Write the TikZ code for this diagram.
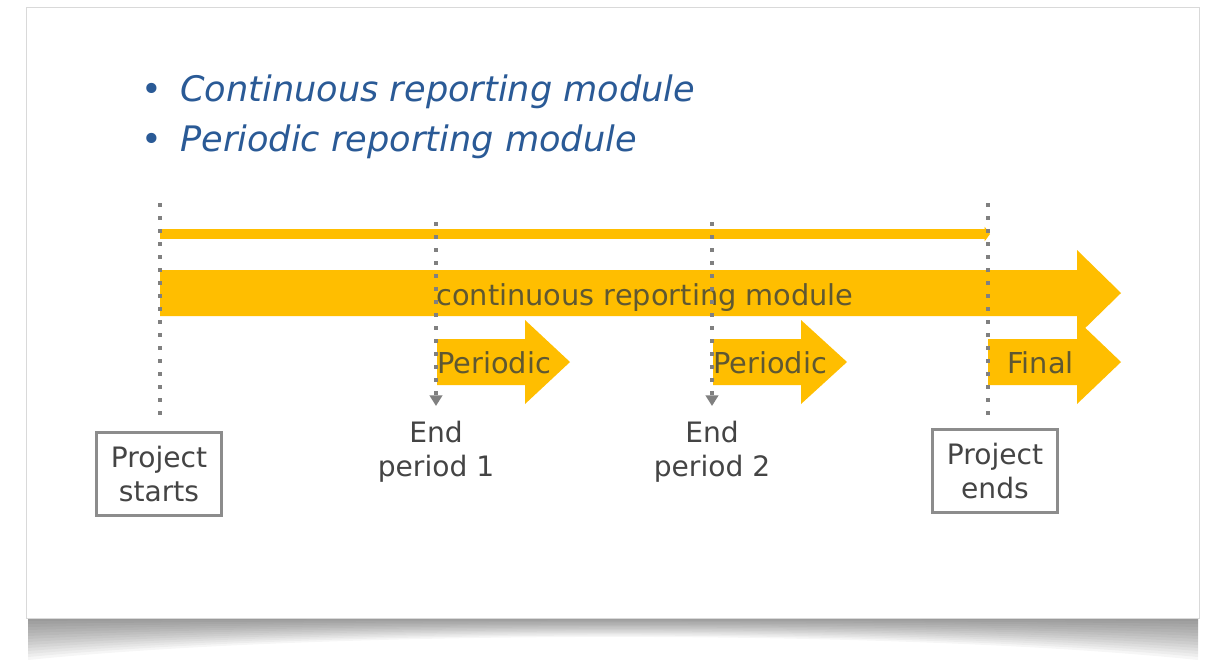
\documentclass[tikz,border=0pt]{standalone}
\usepackage{fontspec}
\setmainfont{DejaVu Sans}
\usetikzlibrary{arrows.meta}

\definecolor{repgold}{RGB}{255,190,0}
\definecolor{repblue}{RGB}{42,90,150}
\definecolor{reptext}{RGB}{68,68,68}
\definecolor{repdots}{RGB}{128,128,128}
\definecolor{repinner}{RGB}{95,88,50}

\tikzset{
  mark line/.style={repdots,line width=2.2pt,dash pattern=on 2.2pt off 5.2pt},
  gold/.style={fill=repgold,draw=none},
  bullet text/.style={font=\fontsize{20}{24}\selectfont\itshape,text=repblue,anchor=base west,inner sep=0pt},
  inner text/.style={font=\fontsize{16.4}{19.5}\selectfont,text=repinner,inner sep=0pt},
  end label/.style={font=\fontsize{16}{19.5}\selectfont,text=reptext,align=center,inner sep=0pt},
  mile box/.style={draw=gray!90,line width=1.2pt,fill=white,font=\fontsize{16}{19.5}\selectfont,
    text=reptext,align=center,minimum width=2.5cm,minimum height=1.66cm,inner sep=0pt},
}

\begin{document}
\begin{tikzpicture}[x=0.02cm,y=-0.02cm]
\useasboundingbox (0,0) rectangle (1217,664);
% card and its shadow
\foreach \k in {0,...,14}
  \fill[black,opacity=0.035] (28,618) -- (1198,618) -- (1198,618+3*\k)
    .. controls (900,618+0.8*\k) and (330,618+0.8*\k) .. (28,618+3*\k) -- cycle;
\draw[gray!30,fill=white] (26,7) rectangle (1199,618);

% bullet list
\node[bullet text,text=repblue] (b1dot) at (141,101) {\upshape•};
\node[bullet text] (b1) at (180,101) {Continuous reporting module};
\node[bullet text,text=repblue] (b2dot) at (141,151) {\upshape•};
\node[bullet text] (b2) at (180,151) {Periodic reporting module};

% timeline points
\coordinate (ps top) at (160,203);
\coordinate (p1 top) at (436,222);
\coordinate (p2 top) at (712,222);
\coordinate (pe top) at (988,203);
\coordinate (cs) at (160,234);
\coordinate (ce) at (990,234);

\node[mile box] (ps box) at (159,474) {Project\\starts};
\node[mile box] (pe box) at (995,471) {Project\\ends};
\node[end label,anchor=north] (p1 lbl) at (436,421) {End\\period 1};
\node[end label,anchor=north] (p2 lbl) at (712,421) {End\\period 2};

% arrows
\draw[repgold,line width=6pt,-{Triangle[width=8pt,length=3pt]}] (cs) -- (ce);
\fill[gold] (160,270) -- (1077,270) -- (1077,250) -- (1121,293) -- (1077,336) -- (1077,316) -- (160,316) -- cycle;
\fill[gold] (437,339) -- (525,339) -- (525,320) -- (570,362) -- (525,404) -- (525,385) -- (437,385) -- cycle;
\fill[gold] (713,339) -- (801,339) -- (801,320) -- (847,362) -- (801,404) -- (801,385) -- (713,385) -- cycle;
\fill[gold] (988,339) -- (1077,339) -- (1077,320) -- (1121,362) -- (1077,404) -- (1077,385) -- (988,385) -- cycle;

\node[inner text,anchor=base] (cont) at (645,305) {continuous reporting module};
\node[inner text,anchor=base west] (per1) at (437,373) {Periodic};
\node[inner text,anchor=base west] (per2) at (713,373) {Periodic};
\node[inner text,anchor=base west] (fin) at (1007,373) {Final};

% dotted marks
\draw[mark line,shorten >=0.22cm] (ps top) -- (ps top |- ps box.north);
\draw[mark line,shorten >=0.2cm] (pe top) -- (pe top |- pe box.north);
\draw[mark line,-{Triangle[width=7pt,length=6pt]}] (p1 top) -- ([yshift=0.3cm]p1 lbl.north);
\draw[mark line,-{Triangle[width=7pt,length=6pt]}] (p2 top) -- ([yshift=0.3cm]p2 lbl.north);
\end{tikzpicture}
\end{document}
